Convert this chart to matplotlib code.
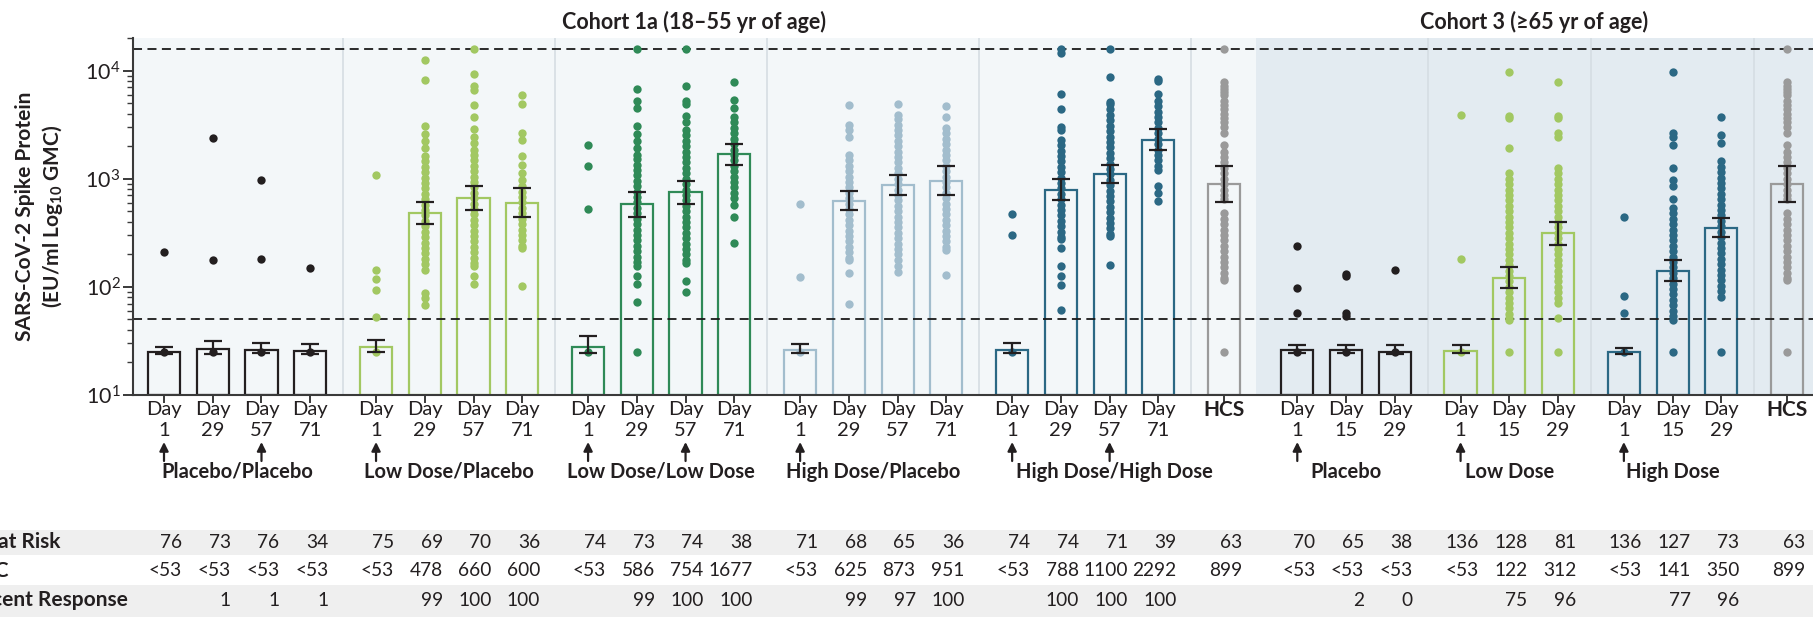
import numpy as np
import matplotlib
matplotlib.use("Agg")
import matplotlib.pyplot as plt
import matplotlib.transforms as mtransforms
from matplotlib.patches import Rectangle

plt.rcParams['font.family'] = ['Lato', 'DejaVu Sans']
plt.rcParams['mathtext.fontset'] = 'custom'
plt.rcParams['mathtext.rm'] = 'Lato'
plt.rcParams['mathtext.bf'] = 'Lato:bold'
plt.rcParams['mathtext.default'] = 'regular'

# ---------------- data ----------------
uloq = 15800
lloq_line = 50

days_c1 = [1, 29, 57, 71]
days_c3 = [1, 15, 29]

# geometric mean concentrations and 95% CI (EU/ml)
gmc_pp = [25, 26.5, 26, 25.5]
lo_pp = [24, 24, 24.3, 24]
hi_pp = [27.5, 31.6, 30.1, 29.4]

gmc_ldp = [27.5, 478, 660, 600]
lo_ldp = [25.2, 380, 516, 442]
hi_ldp = [32, 608, 849, 813]

gmc_ldld = [28, 586, 754, 1677]
lo_ldld = [24.7, 442, 583, 1340]
hi_ldld = [35.2, 758, 944, 2108]

gmc_hdp = [26, 625, 873, 951]
lo_hdp = [24.3, 509, 700, 700]
hi_hdp = [29.7, 769, 1081, 1310]

gmc_hdhd = [26, 788, 1100, 2292]
lo_hdhd = [24.7, 630, 905, 1846]
hi_hdhd = [30, 993, 1340, 2885]

gmc_hcs = [899]
lo_hcs = [605]
hi_hcs = [1320]

gmc_c3pl = [26, 26, 25]
lo_c3pl = [24.3, 24.3, 24]
hi_c3pl = [28.8, 29.2, 28.8]

gmc_c3ld = [25.5, 122, 312]
lo_c3ld = [24.3, 98, 245]
hi_c3ld = [28.8, 152, 397]

gmc_c3hd = [25, 141, 350]
lo_c3hd = [24, 114, 286]
hi_c3hd = [27.2, 177, 432]

# individual participant values, log10 EU/ml
pts_pp = [
    [2.32, 1.40],
    [3.38, 2.25, 1.40],
    [2.99, 2.26, 1.40],
    [2.17, 1.40],
]
pts_ldp = [
    [3.03, 2.16, 2.07, 1.97, 1.72, 1.40],
    [4.10, 3.91, 3.49, 3.41, 3.35, 3.28, 3.21, 3.16, 3.11, 3.06, 3.01, 2.96, 2.91, 2.86,
     2.81, 2.76, 2.71, 2.66, 2.61, 2.56, 2.51, 2.46, 2.41, 2.36, 2.31, 2.26, 2.21, 2.16,
     1.94, 1.90, 1.83],
    [4.20, 3.97, 3.86, 3.82, 3.68, 3.57, 3.46, 3.39, 3.33, 3.27, 3.22, 3.17, 3.12, 3.07,
     3.02, 2.97, 2.92, 2.87, 2.82, 2.77, 2.72, 2.67, 2.62, 2.57, 2.52, 2.47, 2.42, 2.37,
     2.32, 2.27, 2.22, 2.19, 2.10, 2.03],
    [3.77, 3.69, 3.42, 3.36, 3.21, 3.13, 3.05, 2.99, 2.93, 2.88, 2.83, 2.78, 2.73, 2.68,
     2.63, 2.58, 2.53, 2.48, 2.43, 2.38, 2.36, 2.01],
]
pts_ldld = [
    [3.31, 3.12, 2.72, 1.40],
    [4.20, 3.83, 3.72, 3.65, 3.49, 3.41, 3.35, 3.28, 3.22, 3.18, 3.13, 3.08, 3.03, 2.98,
     2.93, 2.88, 2.83, 2.78, 2.73, 2.68, 2.63, 2.58, 2.53, 2.48, 2.43, 2.38, 2.33, 2.28,
     2.23, 2.19, 2.10, 2.03, 1.86, 1.40],
    [4.20, 3.86, 3.72, 3.69, 3.58, 3.52, 3.45, 3.40, 3.35, 3.30, 3.25, 3.20, 3.15, 3.10,
     3.05, 3.00, 2.95, 2.90, 2.85, 2.80, 2.75, 2.70, 2.65, 2.60, 2.55, 2.50, 2.45, 2.40,
     2.35, 2.30, 2.25, 2.22, 2.05, 1.95],
    [3.89, 3.73, 3.65, 3.57, 3.52, 3.47, 3.42, 3.37, 3.32, 3.27, 3.22, 3.17, 3.12, 3.07,
     3.02, 2.97, 2.92, 2.87, 2.82, 2.76, 2.65, 2.41],
]
pts_hdp = [
    [2.77, 2.09, 1.40],
    [3.68, 3.50, 3.45, 3.39, 3.22, 3.17, 3.12, 3.07, 3.02, 2.97, 2.92, 2.87, 2.82, 2.77,
     2.72, 2.67, 2.62, 2.57, 2.52, 2.47, 2.42, 2.37, 2.32, 2.27, 2.25, 2.13, 1.84],
    [3.69, 3.59, 3.55, 3.50, 3.45, 3.40, 3.35, 3.30, 3.25, 3.20, 3.15, 3.10, 3.05, 3.00,
     2.95, 2.90, 2.85, 2.80, 2.75, 2.70, 2.65, 2.60, 2.55, 2.50, 2.45, 2.40, 2.35, 2.30,
     2.25, 2.19, 2.14],
    [3.67, 3.57, 3.47, 3.42, 3.37, 3.32, 3.27, 3.22, 3.17, 3.12, 3.07, 3.02, 2.97, 2.92,
     2.87, 2.82, 2.77, 2.72, 2.67, 2.62, 2.57, 2.52, 2.47, 2.42, 2.37, 2.34, 2.11],
]
pts_hdhd = [
    [2.67, 2.48, 1.40],
    [4.20, 4.16, 3.78, 3.64, 3.48, 3.45, 3.36, 3.31, 3.26, 3.21, 3.16, 3.11, 3.06, 3.01,
     2.96, 2.91, 2.86, 2.81, 2.76, 2.71, 2.66, 2.61, 2.56, 2.51, 2.46, 2.44, 2.36, 2.19,
     2.10, 2.02, 1.79],
    [4.20, 3.94, 3.71, 3.69, 3.64, 3.59, 3.54, 3.49, 3.44, 3.39, 3.34, 3.29, 3.24, 3.19,
     3.14, 3.09, 3.04, 2.99, 2.94, 2.89, 2.84, 2.79, 2.74, 2.69, 2.64, 2.59, 2.54, 2.49,
     2.47, 2.20],
    [3.92, 3.90, 3.78, 3.72, 3.67, 3.62, 3.57, 3.52, 3.47, 3.42, 3.37, 3.32, 3.27, 3.22,
     3.17, 3.12, 3.08, 2.93, 2.87, 2.79],
]
pts_hcs = [
    [4.20, 3.89, 3.86, 3.83, 3.80, 3.77, 3.72, 3.68, 3.64, 3.60, 3.56, 3.52, 3.48, 3.42,
     3.31, 3.25, 3.20, 3.15, 3.10, 3.05, 3.00, 2.95, 2.90, 2.85, 2.81, 2.68, 2.63, 2.58,
     2.53, 2.48, 2.43, 2.38, 2.33, 2.28, 2.23, 2.18, 2.13, 2.08, 2.06, 1.40],
]
pts_c3pl = [
    [2.38, 1.99, 1.76, 1.40],
    [2.12, 2.10, 1.76, 1.73, 1.40],
    [2.16, 1.40],
]
pts_c3ld = [
    [3.59, 2.26, 1.40],
    [3.99, 3.58, 3.56, 3.28, 3.05, 3.00, 2.95, 2.90, 2.85, 2.80, 2.75, 2.70, 2.65, 2.60,
     2.55, 2.50, 2.45, 2.40, 2.35, 2.30, 2.25, 2.20, 2.15, 2.10, 2.05, 2.00, 1.95, 1.90,
     1.85, 1.80, 1.75, 1.71, 1.69, 1.40],
    [3.89, 3.58, 3.56, 3.42, 3.39, 3.10, 3.05, 3.00, 2.95, 2.90, 2.85, 2.80, 2.75, 2.70,
     2.65, 2.60, 2.55, 2.50, 2.45, 2.40, 2.35, 2.30, 2.25, 2.20, 2.15, 2.10, 2.05, 2.00,
     1.95, 1.90, 1.85, 1.71, 1.40],
]
pts_c3hd = [
    [2.65, 1.92, 1.76, 1.40],
    [3.99, 3.42, 3.39, 3.31, 3.10, 2.99, 2.93, 2.81, 2.73, 2.68, 2.63, 2.58, 2.53, 2.48,
     2.43, 2.38, 2.33, 2.28, 2.23, 2.18, 2.13, 2.08, 2.03, 1.98, 1.93, 1.88, 1.83, 1.78,
     1.73, 1.69, 1.40],
    [3.57, 3.40, 3.33, 3.16, 3.11, 3.06, 3.01, 2.96, 2.91, 2.86, 2.81, 2.76, 2.71, 2.66,
     2.61, 2.56, 2.51, 2.46, 2.41, 2.36, 2.31, 2.26, 2.21, 2.16, 2.11, 2.06, 2.01, 1.96,
     1.91, 1.40],
]

# table rows
at_risk_c1 = [76, 73, 76, 34, 75, 69, 70, 36, 74, 73, 74, 38, 71, 68, 65, 36, 74, 74, 71, 39, 63]
at_risk_c3 = [70, 65, 38, 136, 128, 81, 136, 127, 73, 63]
resp_c1 = ["", 1, 1, 1, "", 99, 100, 100, "", 99, 100, 100, "", 99, 97, 100, "", 100, 100, 100, ""]
resp_c3 = ["", 2, 0, "", 75, 96, "", 77, 96, ""]

BLACK = '#231f20'
LGREEN = '#a2c862'
GREEN = '#2f8a57'
LBLUE = '#a2bdcd'
TEAL = '#2b6884'
GRAY = '#9a9a9a'

groups = [
    dict(name='Placebo/Placebo', days=days_c1, gmc=gmc_pp, lo=lo_pp, hi=hi_pp, pts=pts_pp, color=BLACK, doses=[0, 2]),
    dict(name='Low Dose/Placebo', days=days_c1, gmc=gmc_ldp, lo=lo_ldp, hi=hi_ldp, pts=pts_ldp, color=LGREEN, doses=[0]),
    dict(name='Low Dose/Low Dose', days=days_c1, gmc=gmc_ldld, lo=lo_ldld, hi=hi_ldld, pts=pts_ldld, color=GREEN, doses=[0, 2]),
    dict(name='High Dose/Placebo', days=days_c1, gmc=gmc_hdp, lo=lo_hdp, hi=hi_hdp, pts=pts_hdp, color=LBLUE, doses=[0]),
    dict(name='High Dose/High Dose', days=days_c1, gmc=gmc_hdhd, lo=lo_hdhd, hi=hi_hdhd, pts=pts_hdhd, color=TEAL, doses=[0, 2], label_dx=0.6),
    dict(name='', days=None, gmc=gmc_hcs, lo=lo_hcs, hi=hi_hcs, pts=pts_hcs, color=GRAY, doses=[]),
    dict(name='Placebo', days=days_c3, gmc=gmc_c3pl, lo=lo_c3pl, hi=hi_c3pl, pts=pts_c3pl, color=BLACK, doses=[0], new_cohort=True),
    dict(name='Low Dose', days=days_c3, gmc=gmc_c3ld, lo=lo_c3ld, hi=hi_c3ld, pts=pts_c3ld, color=LGREEN, doses=[0]),
    dict(name='High Dose', days=days_c3, gmc=gmc_c3hd, lo=lo_c3hd, hi=hi_c3hd, pts=pts_c3hd, color=TEAL, doses=[0]),
    dict(name='', days=None, gmc=gmc_hcs, lo=lo_hcs, hi=hi_hcs, pts=pts_hcs, color=GRAY, doses=[]),
]
at_risk = at_risk_c1 + at_risk_c3
resp = resp_c1 + resp_c3

# ---------------- layout ----------------
W, H = 1813, 617
fig = plt.figure(figsize=(W / 100, H / 100), dpi=100)
ax = fig.add_axes([133 / W, (H - 395) / H, (W - 133) / W, (395 - 38) / H])

def fy(px):
    return 1 - px / H

x = 0.0
for i, g in enumerate(groups):
    if i > 0:
        x += 1.5 if g.get('new_cohort') else 1.35
    g['x'] = x + np.arange(len(g['gmc']))
    x = g['x'][-1]

xmin, xmax = -0.636, 33.83
cohort_split = groups[5]['x'][0] + 0.65
y0 = 10

ax.axvspan(xmin, cohort_split, color='#f3f7f9', zorder=0, lw=0)
ax.axvspan(cohort_split, xmax, color='#e3ebf1', zorder=0, lw=0)
for a, b in zip(groups[:-1], groups[1:]):
    if b.get('new_cohort'):
        continue
    ax.axvline((a['x'][-1] + b['x'][0]) / 2, color='#d5dde3', lw=1.2, zorder=0.5)

for yv in (uloq, lloq_line):
    ax.axhline(yv, color='#1a1a1a', lw=1.3, ls=(0, (5, 3)), zorder=2.5)

for g in groups:
    gm = np.array(g['gmc'])
    ax.bar(g['x'], gm - y0, bottom=y0, width=0.66, facecolor='none',
           edgecolor=g['color'], lw=1.6, zorder=2)
    for xi, vals in zip(g['x'], g['pts']):
        ax.scatter(np.full(len(vals), xi), 10 ** np.array(vals), s=36, color=g['color'],
                   lw=0, zorder=3)
    ax.errorbar(g['x'], gm, yerr=[gm - np.array(g['lo']), np.array(g['hi']) - gm],
                fmt='none', ecolor=BLACK, elinewidth=1.6, capsize=6.5, capthick=1.6, zorder=4)

ax.set_yscale('log')
ax.set_ylim(y0, 20000)
ax.set_xlim(xmin, xmax)
ax.set_yticks([10, 100, 1000, 10000])
ax.set_yticklabels(['$10^{1}$', '$10^{2}$', '$10^{3}$', '$10^{4}$'], fontsize=15.5, color=BLACK)
all_x = np.concatenate([g['x'] for g in groups])
ax.set_xticks(all_x)
ax.tick_params(axis='x', length=6, width=1.4, color='#3a3a3a', labelbottom=False)
ax.tick_params(axis='y', which='major', length=7, width=1.4, color='#3a3a3a', pad=2)
ax.tick_params(axis='y', which='minor', length=4, width=1.0, color='#3a3a3a')
for s in ('top', 'right'):
    ax.spines[s].set_visible(False)
for s in ('left', 'bottom'):
    ax.spines[s].set_color('#3a3a3a')
    ax.spines[s].set_linewidth(1.5)

fig.text(40 / W, fy(216), 'SARS-CoV-2 Spike Protein\n(EU/ml Log$_{\\mathbf{10}}$ GMC)',
         rotation=90, ha='center', va='center', fontsize=15, fontweight='bold',
         linespacing=1.25, multialignment='center', color=BLACK)

tr = mtransforms.blended_transform_factory(ax.transData, fig.transFigure)
ax.text((xmin + cohort_split) / 2, fy(22), 'Cohort 1a (18\u201355 yr of age)', transform=tr,
        ha='center', va='center', fontsize=15.5, fontweight='bold', color=BLACK)
ax.text((cohort_split + xmax) / 2, fy(22), 'Cohort 3 (\u226565 yr of age)', transform=tr,
        ha='center', va='center', fontsize=15.5, fontweight='bold', color=BLACK)

# row shading for the table
for top, bot in ((530, 555), (585, 617)):
    fig.patches.append(Rectangle((0, fy(bot)), 1, (bot - top) / H, transform=fig.transFigure,
                                 facecolor='#efefef', lw=0, zorder=-1))

ROW_Y = (542, 571, 600)
col = 0
for g in groups:
    for k, xi in enumerate(g['x']):
        if g['days'] is None:
            ax.text(xi, fy(410), 'HCS', transform=tr, ha='center', va='center',
                    fontsize=15, fontweight='bold', color=BLACK)
        else:
            ax.text(xi, fy(410), 'Day', transform=tr, ha='center', va='center', fontsize=14.5, color=BLACK)
            ax.text(xi, fy(431), str(g['days'][k]), transform=tr, ha='center', va='center',
                    fontsize=14.5, color=BLACK)
        if k in g['doses']:
            ax.annotate('', xy=(xi, fy(442)), xytext=(xi, fy(461)), xycoords=tr, textcoords=tr,
                        arrowprops=dict(arrowstyle='-|>', color=BLACK, lw=1.6, mutation_scale=13,
                                        shrinkA=0, shrinkB=0), annotation_clip=False)
        gv = g['gmc'][k]
        gtxt = '<53' if gv < 53 else f'{gv:.0f}'
        xr = xi + 0.37
        for yy, txt in zip(ROW_Y, (at_risk[col], gtxt, resp[col])):
            ax.text(xr, fy(yy), str(txt), transform=tr, ha='right', va='center',
                    fontsize=13.8, color=BLACK)
        col += 1
    if g['name']:
        ax.text(g['x'].mean() + g.get('label_dx', 0), fy(472), g['name'], transform=tr,
                ha='center', va='center', fontsize=14.5, fontweight='bold', color=BLACK)

for yy, lab in zip(ROW_Y, ('No. at Risk', 'GMC', 'Percent Response')):
    fig.text(-40 / W, fy(yy), lab, ha='left', va='center', fontsize=15,
             fontweight='bold', color=BLACK)

fig.savefig('out.png', dpi=100)
